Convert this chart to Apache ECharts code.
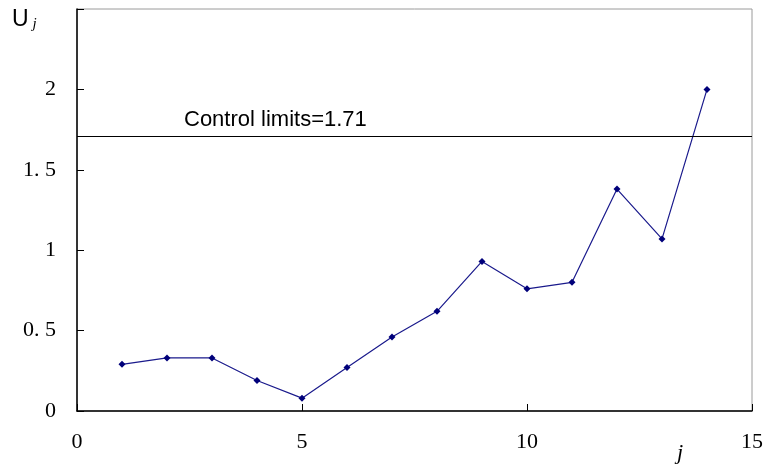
<!DOCTYPE html>
<html><head><meta charset="utf-8">
<script src="https://cdn.jsdelivr.net/npm/echarts@6/dist/echarts.min.js"></script>
<style>html,body{margin:0;padding:0;background:#fff}#c{width:766px;height:468px}</style>
</head><body><div id="c"></div>
<script>
const jValues = [1,2,3,4,5,6,7,8,9,10,11,12,13,14];
const uValues = [0.29,0.33,0.33,0.19,0.08,0.27,0.46,0.62,0.93,0.76,0.80,1.38,1.07,2.00];
const controlLimit = 1.71;
const yTickLabels = {0:'0',0.5:'0. 5',1:'1',1.5:'1. 5',2:'2'};

const chart = echarts.init(document.getElementById('c'));
const serif = 'Liberation Serif';
chart.setOption({
  animation:false,
  backgroundColor:'#fff',
  grid:{left:77,right:11,top:9,bottom:57,show:true,borderColor:'#9a9a9a',borderWidth:1},
  xAxis:{type:'value',min:0,max:15,interval:5,
    axisLine:{show:true,onZero:false,lineStyle:{color:'#000',width:1.5}},
    axisTick:{show:true,inside:true,length:7,lineStyle:{color:'#000'}},
    splitLine:{show:false},
    axisLabel:{margin:20,color:'#000',fontFamily:serif,fontSize:22,
      showMaxLabel:true,showMinLabel:true}},
  yAxis:{type:'value',min:0,max:2.5,interval:0.5,
    axisLine:{show:true,lineStyle:{color:'#000',width:1.5}},
    axisTick:{show:true,inside:true,length:7,lineStyle:{color:'#000'}},
    splitLine:{show:false},
    axisLabel:{margin:21,color:'#000',fontFamily:serif,fontSize:22,
      formatter:v=> (v in yTickLabels) ? yTickLabels[v] : ''}},
  graphic:[
    {type:'text',left:12,top:8,style:{rich:{u:{fontFamily:'Liberation Sans',fontSize:23,fill:'#000'},j:{fontFamily:serif,fontStyle:'italic',fontSize:15,fill:'#000',padding:[10,0,0,4]}},text:'{u|U}{j|j}'}},
    {type:'text',left:677,top:442,style:{text:'j',fontFamily:serif,fontStyle:'italic',fontSize:22,fill:'#000'}}
  ],
  series:[{
    type:'line',
    data:jValues.map((j,i)=>[j,uValues[i]]),
    symbol:'diamond',symbolSize:7,
    lineStyle:{color:'#1a1a8c',width:1.2},
    itemStyle:{color:'#00007a'},
    markLine:{silent:true,symbol:'none',
      lineStyle:{color:'#000',width:1.2,type:'solid'},
      label:{show:true,position:'insideStartTop',distance:[107,5],
        formatter:'Control limits='+controlLimit,
        fontFamily:'Liberation Sans',fontSize:22,color:'#000'},
      data:[{yAxis:controlLimit}]}
  }]
});
</script></body></html>
